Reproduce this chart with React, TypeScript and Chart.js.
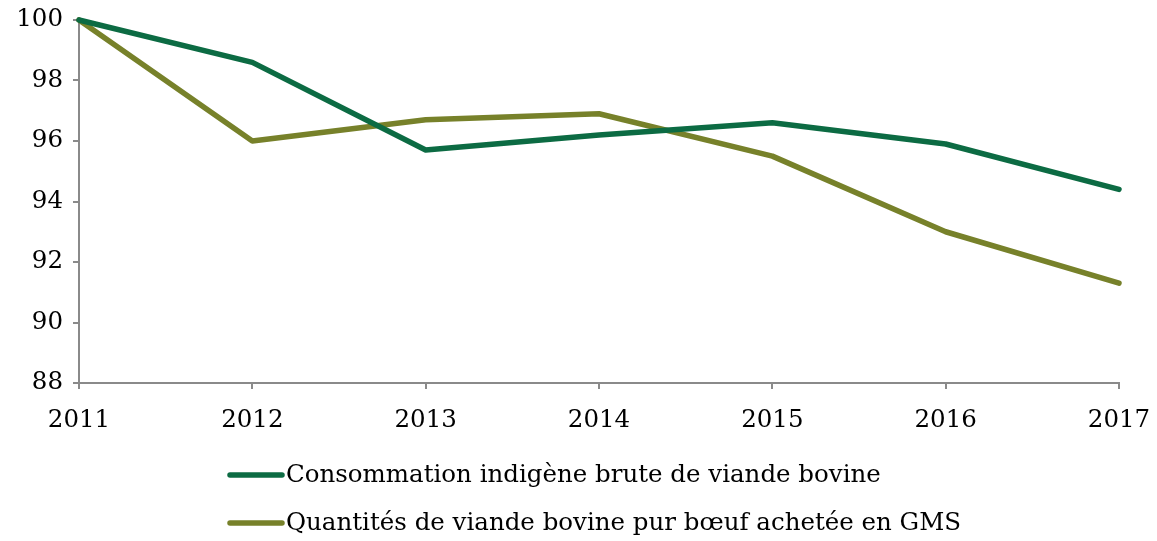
import React, { useEffect, useRef } from "react";
import { Chart, registerables } from "chart.js";

Chart.register(...registerables);

const years = ["2011", "2012", "2013", "2014", "2015", "2016", "2017"];
const consommation = [100, 98.6, 95.7, 96.2, 96.6, 95.9, 94.4];
const quantites = [100, 96.0, 96.7, 96.9, 95.5, 93.0, 91.3];
const seriesNames = [
  "Consommation indigène brute de viande bovine",
  "Quantités de viande bovine pur bœuf achetée en GMS",
];
const colors = ["#0c6b43", "#77812a"];

const FONT = "'DejaVu Serif', serif";
const FSIZE = 24.5;

const legendPlugin = {
  id: "customLegend",
  afterDraw(chart: any) {
    const ctx = chart.ctx;
    ctx.save();
    const x0 = 228;
    const rows = [475, 523];
    chart.data.datasets.forEach((ds: any, i: number) => {
      const y = rows[i];
      ctx.strokeStyle = ds.borderColor;
      ctx.lineWidth = 5.5;
      ctx.lineCap = "round";
      ctx.beginPath();
      ctx.moveTo(x0 + 2, y);
      ctx.lineTo(x0 + 54, y);
      ctx.stroke();
      ctx.fillStyle = "#000";
      ctx.font = `${FSIZE}px ${FONT}`;
      ctx.textBaseline = "middle";
      ctx.textAlign = "left";
      ctx.fillText(ds.label, x0 + 58, y + 1);
    });
    ctx.restore();
  },
};

export default function App() {
  const ref = useRef<HTMLCanvasElement>(null);
  useEffect(() => {
    if (!ref.current) return;
    const chart = new Chart(ref.current, {
      type: "line",
      data: {
        labels: years,
        datasets: [
          { label: seriesNames[0], data: consommation, borderColor: colors[0], backgroundColor: colors[0], clip: false },
          { label: seriesNames[1], data: quantites, borderColor: colors[1], backgroundColor: colors[1], clip: false },
        ],
      },
      options: {
        animation: false,
        responsive: false,
        maintainAspectRatio: false,
        layout: { padding: { left: 0, top: 20, right: 38, bottom: 108 } },
        elements: {
          line: { borderWidth: 5.5, tension: 0, borderCapStyle: "round", borderJoinStyle: "round" },
          point: { radius: 0, hoverRadius: 0 },
        },
        plugins: { legend: { display: false }, tooltip: { enabled: false } },
        scales: {
          x: {
            offset: false,
            grid: { drawOnChartArea: false, drawTicks: true, tickLength: 6, color: "#8a8a8a", lineWidth: 2 },
            border: { color: "#8a8a8a", width: 2 },
            ticks: { color: "#000", font: { family: FONT, size: FSIZE }, padding: 17, maxRotation: 0 },
            afterFit: (s: any) => { s.height = 50; s.paddingLeft = 0; s.paddingRight = 0; },
          },
          y: {
            min: 88,
            max: 100,
            grid: { drawOnChartArea: false, drawTicks: true, tickLength: 6, color: "#8a8a8a", lineWidth: 2 },
            border: { color: "#8a8a8a", width: 2 },
            ticks: { stepSize: 2, color: "#000", font: { family: FONT, size: FSIZE }, padding: 10 },
            afterFit: (s: any) => { s.width = 79; s.paddingTop = 0; s.paddingBottom = 0; },
          },
        },
      },
      plugins: [legendPlugin],
    });
    return () => chart.destroy();
  }, []);
  return (
    <div style={{ position: "absolute", left: 0, top: 0, width: 1157, height: 541, background: "#fff" }}>
      <canvas ref={ref} width={1157} height={541} style={{ width: 1157, height: 541 }} />
    </div>
  );
}
